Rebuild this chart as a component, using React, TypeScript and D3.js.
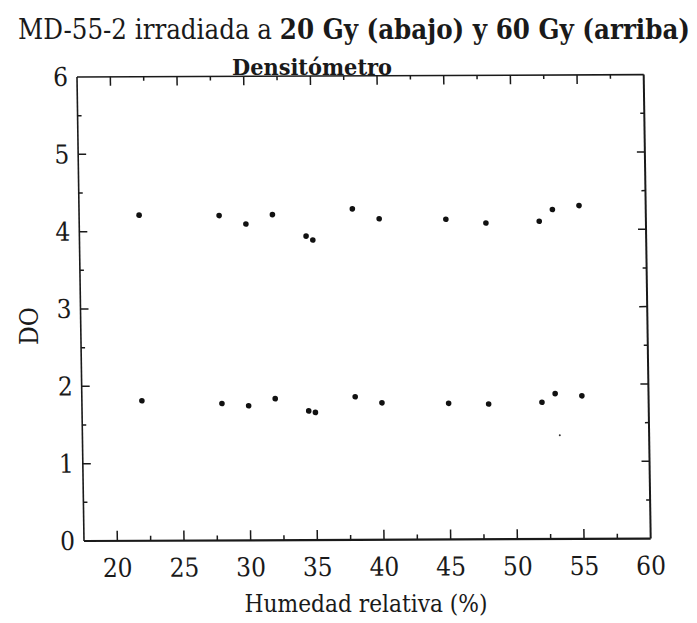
import React from "react";
import * as d3 from "d3";

// ---- data ----
const humidity60 = [22, 28, 30, 32, 34.5, 35, 38, 40, 45, 48, 52, 53, 55];
const do60 = [4.21, 4.2, 4.09, 4.21, 3.93, 3.88, 4.28, 4.15, 4.14, 4.09, 4.11, 4.26, 4.31];
const humidity20 = [22, 28, 30, 32, 34.5, 35, 38, 40, 45, 48, 52, 53, 55];
const do20 = [1.81, 1.77, 1.74, 1.83, 1.67, 1.65, 1.85, 1.77, 1.76, 1.75, 1.77, 1.88, 1.85];
const specks = [{ x: 53.3, y: 1.34 }];
const xTickLabels = [20, 25, 30, 35, 40, 45, 50, 55, 60];
const yTickLabels = [0, 1, 2, 3, 4, 5, 6];
const xMinor = [22.5, 27.5, 32.5, 37.5, 42.5, 47.5, 52.5, 57.5];
const yMinor = [0.5, 1.5, 2.5, 3.5, 4.5, 5.5];

const W = 697;
const H = 623;
const L = 84;
const R = 650.7;
const T = 77;
const B = 541;

export default function App() {
  const x = d3.scaleLinear().domain([17.5, 60]).range([L, R]);
  const y = d3.scaleLinear().domain([0, 6]).range([B, T]);
  const c = 0.0151;
  const b = -0.0042;
  const skew = `matrix(1, ${b}, ${c}, 1, ${-c * B}, ${-b * L})`;
  const font = '"DejaVu Serif Condensed", "Liberation Serif", "DejaVu Serif", serif';
  const ink = "#1a1a1a";
  const pts60 = humidity60.map((h, i) => ({ x: h, y: do60[i] }));
  const pts20 = humidity20.map((h, i) => ({ x: h, y: do20[i] }));
  const majorX = xTickLabels.filter((v) => v < 60);
  const majorY = yTickLabels.filter((v) => v > 0 && v < 6);
  const ts = { fontFamily: font, fontStretch: "condensed" };

  return (
    <svg width={W} height={H} style={{ position: "absolute", left: 0, top: 0, background: "#fff", fontFamily: font }}>
      <rect width={W} height={H} fill="#fff" />
      <text x={18} y={39} fontSize={27} fill={ink} style={ts} textLength={672} lengthAdjust="spacingAndGlyphs">
        <tspan>MD-55-2 irradiada a </tspan>
        <tspan fontWeight="bold">20 Gy (abajo) y 60 Gy (arriba)</tspan>
      </text>
      <text x={232} y={75} fontSize={22} fontWeight="bold" fill={ink} style={ts} textLength={160} lengthAdjust="spacingAndGlyphs">
        Densitómetro
      </text>
      <text x={366} y={612} fontSize={24} fill={ink} style={ts} textAnchor="middle" textLength={243} lengthAdjust="spacingAndGlyphs">
        Humedad relativa (%)
      </text>
      <text transform={`translate(38, 326) rotate(-90)`} fontSize={26} fill={ink} style={ts} textAnchor="middle">
        DO
      </text>
      <g transform={skew}>
        {/* frame */}
        <line x1={L} x2={L} y1={T} y2={B} stroke={ink} strokeWidth={1.6} />
        <line x1={R} x2={R} y1={T} y2={B} stroke={ink} strokeWidth={2} />
        <line x1={L} x2={R} y1={T} y2={T} stroke={ink} strokeWidth={1.6} />
        <line x1={L} x2={R} y1={B} y2={B} stroke={ink} strokeWidth={2.2} />
        {/* x ticks */}
        {majorX.map((v) => (
          <g key={"mx" + v}>
            <line x1={x(v)} x2={x(v)} y1={B} y2={B - 10} stroke={ink} strokeWidth={1.5} />
            <line x1={x(v)} x2={x(v)} y1={T} y2={T + 9} stroke={ink} strokeWidth={1.5} />
          </g>
        ))}
        {xMinor.map((v) => (
          <g key={"nx" + v}>
            <line x1={x(v)} x2={x(v)} y1={B} y2={B - 5} stroke={ink} strokeWidth={1.5} />
            <line x1={x(v)} x2={x(v)} y1={T} y2={T + 4} stroke={ink} strokeWidth={1.5} />
          </g>
        ))}
        {/* y ticks */}
        {majorY.map((v) => (
          <g key={"my" + v}>
            <line x1={L} x2={L + 8} y1={y(v)} y2={y(v)} stroke={ink} strokeWidth={1.5} />
            <line x1={R} x2={R - 8} y1={y(v)} y2={y(v)} stroke={ink} strokeWidth={1.5} />
          </g>
        ))}
        {yMinor.map((v) => (
          <g key={"ny" + v}>
            <line x1={L} x2={L + 4} y1={y(v)} y2={y(v)} stroke={ink} strokeWidth={1.5} />
            <line x1={R} x2={R - 4} y1={y(v)} y2={y(v)} stroke={ink} strokeWidth={1.5} />
          </g>
        ))}
        {/* tick labels */}
        {xTickLabels.map((v) => (
          <text key={"lx" + v} x={x(v)} y={B + 36} fontSize={26} fill={ink} style={ts} textAnchor="middle">
            {v}
          </text>
        ))}
        {yTickLabels.map((v) => (
          <text key={"ly" + v} x={L - 9} y={y(v) + 9} fontSize={26} fill={ink} style={ts} textAnchor="end">
            {v}
          </text>
        ))}
        {/* points */}
        {pts60.map((p, i) => (
          <circle key={"a" + i} cx={x(p.x)} cy={y(p.y)} r={2.8} fill="#111" />
        ))}
        {pts20.map((p, i) => (
          <circle key={"b" + i} cx={x(p.x)} cy={y(p.y)} r={2.8} fill="#111" />
        ))}
        {specks.map((p, i) => (
          <circle key={"s" + i} cx={x(p.x)} cy={y(p.y)} r={1} fill="#333" />
        ))}
      </g>
    </svg>
  );
}
